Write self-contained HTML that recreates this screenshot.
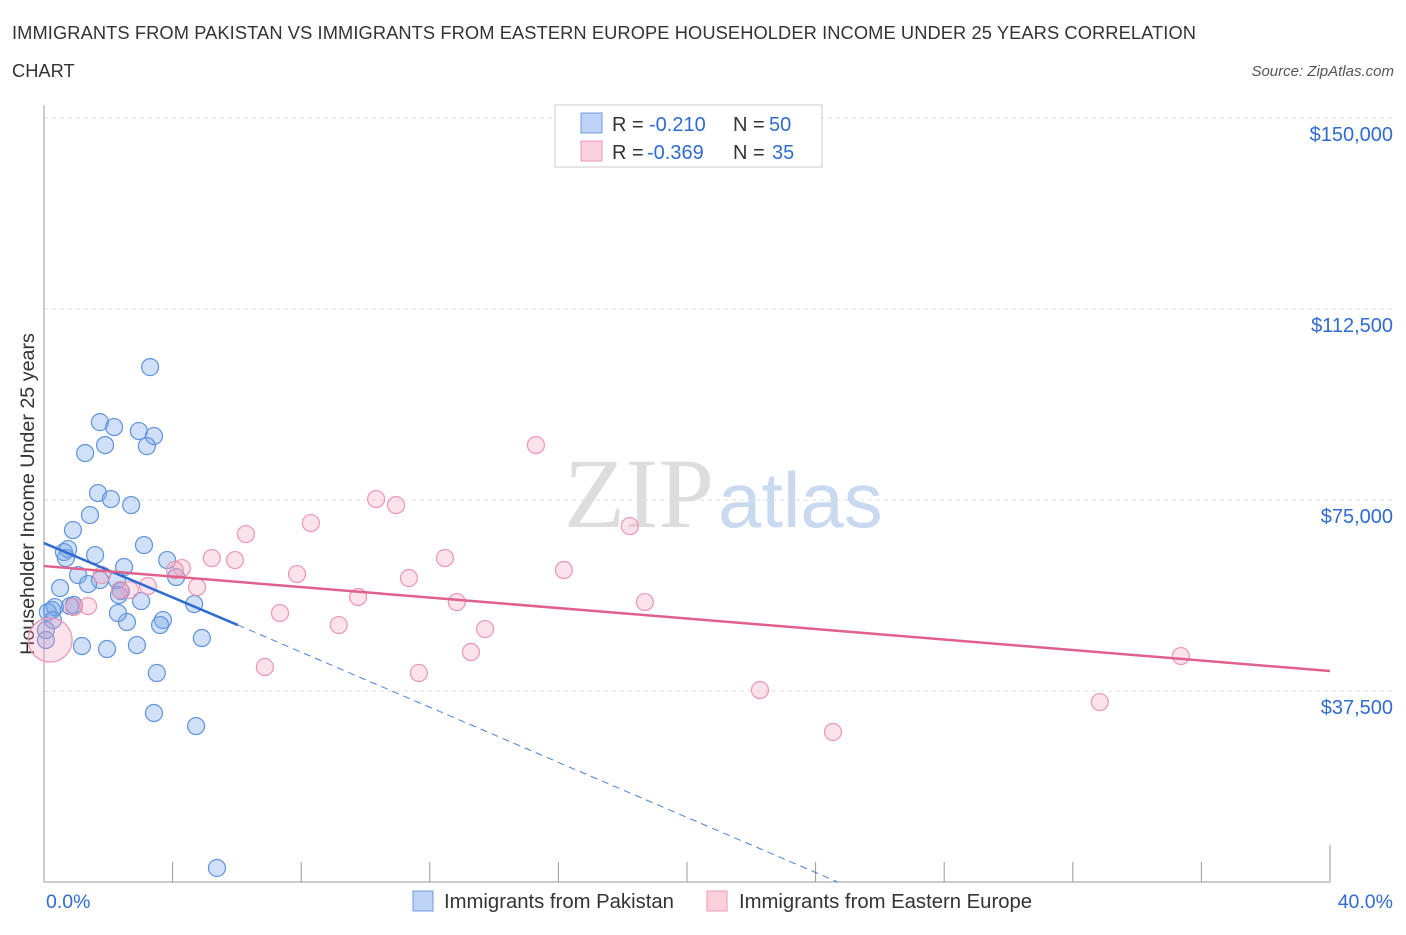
<!DOCTYPE html>
<html><head><meta charset="utf-8"><style>
body{margin:0;background:#fff;font-family:"Liberation Sans",sans-serif;}
svg text{font-family:"Liberation Sans",sans-serif;}
</style></head><body>
<svg id="c" width="1406" height="930">
<text x="12" y="39" font-size="18.3" fill="#333" textLength="1184">IMMIGRANTS FROM PAKISTAN VS IMMIGRANTS FROM EASTERN EUROPE HOUSEHOLDER INCOME UNDER 25 YEARS CORRELATION</text>
<text x="12" y="77" font-size="18.3" fill="#333">CHART</text>
<text x="1394" y="76" font-size="15" fill="#555" font-style="italic" text-anchor="end">Source: ZipAtlas.com</text>
<text x="714" y="527" font-size="100" fill="#ddd" text-anchor="end" style="font-family:'Liberation Serif',serif">ZIP</text>
<text x="718" y="527" font-size="78" fill="#c9d9ef">atlas</text>
<text transform="translate(34,494) rotate(-90)" font-size="19.7" fill="#333" text-anchor="middle">Householder Income Under 25 years</text>
<g id="grid"></g><g id="marks"></g>
<g>
<rect x="555" y="105" width="267" height="62" fill="#fff" stroke="#ccc"/>
<rect x="581" y="113" width="21" height="20" fill="#bcd3f5" stroke="#6b9be0"/>
<rect x="581" y="141" width="21" height="20" fill="#fbd0dd" stroke="#ec9ab5"/>
<g font-size="20" fill="#333">
<text x="612" y="131">R =</text><text x="649" y="131" fill="#2f6bd0">-0.210</text><text x="733" y="131">N =</text><text x="769" y="131" fill="#2f6bd0">50</text></g>
<g font-size="20" fill="#333">
<text x="612" y="159">R =</text><text x="647" y="159" fill="#2f6bd0">-0.369</text><text x="733" y="159">N =</text><text x="772" y="159" fill="#2f6bd0">35</text></g>
</g>
<g>
<rect x="413" y="891" width="20" height="20" fill="#bcd3f5" stroke="#6b9be0"/>
<text x="444" y="908" font-size="20.3" fill="#333">Immigrants from Pakistan</text>
<rect x="707" y="891" width="20" height="20" fill="#fbd0dd" stroke="#ec9ab5"/>
<text x="739" y="908" font-size="20.3" fill="#333">Immigrants from Eastern Europe</text>
</g>
</svg>
<script>
const yTicks=[37500,75000,112500,150000];
const yTickLabels=["$37,500","$75,000","$112,500","$150,000"];
const xTickLabels=["0.0%","40.0%"];
const pakX=[3.30,1.74,2.18,2.95,3.42,1.90,3.20,1.28,1.68,2.08,2.71,1.43,0.90,0.62,0.75,1.59,3.11,3.83,0.68,2.49,1.06,4.11,1.74,2.27,1.37,0.50,2.39,2.33,3.02,4.67,0.34,0.93,0.12,0.25,0.28,3.70,2.58,2.30,3.61,4.91,0.06,1.18,1.96,2.89,3.51,3.42,4.73,5.38,0.06,0.81];
const pakY=[101090,90290,89320,88530,87550,85780,85580,84210,76360,75180,74000,72040,69100,64780,65370,64190,66150,63210,63600,61840,60260,59870,59280,59280,58500,57710,57120,56340,55160,54570,53980,54380,53000,53390,51430,51430,51040,52800,50450,47900,47510,46330,45740,46520,41030,33180,30620,2750,49470,54180];
const eeX=[15.30,10.33,10.95,8.30,18.22,6.28,5.22,5.94,12.47,16.17,7.87,11.35,4.29,1.80,3.23,4.76,2.67,9.77,12.84,18.69,7.34,0.93,1.37,13.72,9.17,13.28,6.87,11.66,35.36,22.27,32.84,24.54,0.19,2.36,4.07];
const eeY=[85780,75180,74000,70470,69880,68310,63600,63210,63600,61250,60460,59680,61640,60260,58110,57910,57320,55950,54960,54960,52800,53980,54180,49660,50450,45150,42210,41030,44360,37690,35330,29450,47510,57320,61250];
const eeBig=[32];
const pakTrend=[[0,66550],[6.03,50450]];
const pakTrendDash=[[6.03,50450],[24.69,0]];
const eeTrend=[[0,62030],[40,41420]];
const X=v=>44+v/40*1286, Y=v=>882-v/150000*764;
const NS="http://www.w3.org/2000/svg";
function mk(p,t,a){const e=document.createElementNS(NS,t);for(const k in a)e.setAttribute(k,a[k]);p.appendChild(e);return e;}
const g=document.getElementById('grid'), m=document.getElementById('marks');
yTicks.forEach((v,i)=>{
 const l=mk(g,'line',{x1:44,x2:1392,y1:Y(v),y2:Y(v),stroke:'#ddd','stroke-dasharray':'4,4'});
 
 
 const t=mk(g,'text',{x:1393,y:Y(v)+23,'font-size':20,fill:'#2f6bd0','text-anchor':'end'});t.textContent=yTickLabels[i];
 
 
});
const tl=mk(g,'line',{x1:44,x2:1392,y1:118,y2:118,stroke:'#ddd','stroke-dasharray':'4,4'});


const ax=mk(g,'line',{x1:44,x2:44,y1:105,y2:882,stroke:'#999'});


const bx=mk(g,'line',{x1:44,x2:1330,y1:882,y2:882,stroke:'#999'});


for(let i=0;i<=10;i++){const t=mk(g,'line',{x1:X(i*4),x2:X(i*4),y1:i==0||i==10?845:862,y2:882,stroke:'#999'});
 
 }
[[0,'start',46],[1,'end',1393]].forEach(([i,a,x])=>{const t=mk(g,'text',{x:x,y:908,'font-size':19.5,fill:'#2f6bd0','text-anchor':a});t.textContent=xTickLabels[i];
 
 });
pakX.forEach((v,i)=>{const c=mk(m,'circle',{cx:X(v),cy:Y(pakY[i]),r:8.5,fill:'rgba(120,165,235,0.35)',stroke:'#5f93dc','stroke-width':1.2});
 
 });
eeX.forEach((v,i)=>{const c=mk(m,'circle',{cx:X(v),cy:Y(eeY[i]),r:eeBig.includes(i)?22:8.5,fill:'rgba(245,160,190,0.3)',stroke:'#eb96b3','stroke-width':1.2});
 
 });
const l1=mk(m,'line',{x1:X(pakTrend[0][0]),y1:Y(pakTrend[0][1]),x2:X(pakTrend[1][0]),y2:Y(pakTrend[1][1]),stroke:'#2f6bd0','stroke-width':2.5});


const l2=mk(m,'line',{x1:X(pakTrendDash[0][0]),y1:Y(pakTrendDash[0][1]),x2:X(pakTrendDash[1][0]),y2:Y(pakTrendDash[1][1]),stroke:'#4a80d8','stroke-width':1,'stroke-dasharray':'7,5'});


const l3=mk(m,'line',{x1:X(eeTrend[0][0]),y1:Y(eeTrend[0][1]),x2:X(eeTrend[1][0]),y2:Y(eeTrend[1][1]),stroke:'#e0608c','stroke-width':2.5});


</script>
</body></html>
